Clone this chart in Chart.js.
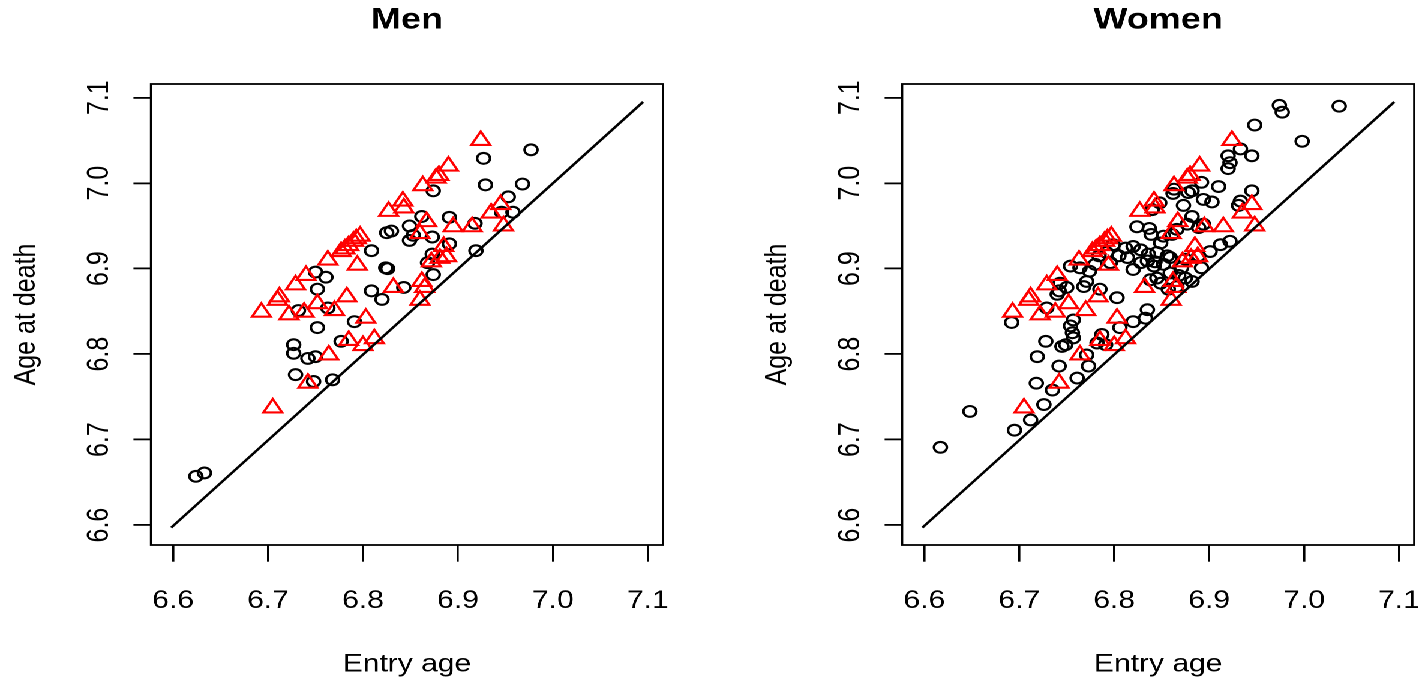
<!DOCTYPE html>
<html>
<head>
<meta charset="utf-8">
<script src="https://cdn.jsdelivr.net/npm/chart.js@4.4.0/dist/chart.umd.min.js"></script>
<style>
html, body { margin: 0; padding: 0; background: #fff; overflow: hidden; }
#wrap { position: absolute; left: 0; top: 0; width: 1182px; height: 685px; transform: scaleX(1.2); transform-origin: 0 0; }
.panel { position: absolute; top: 0; width: 591px; height: 685px; }
</style>
</head>
<body>
<div id="wrap">
    <div class="panel" style="left:0px"><canvas id="menChart"></canvas></div>
    <div class="panel" style="left:625.5px"><canvas id="womenChart"></canvas></div>
</div>
<script>
"use strict";
var axisTicks = [6.6, 6.7, 6.8, 6.9, 7.0, 7.1];
var axisMin = 6.5767;
var axisMax = 7.116;

var diagEntry = [6.598, 7.095];
var diagDeath = [6.597, 7.095];

// red triangles (same in both panels)
var refEntry = [6.924, 6.890, 6.880, 6.877, 6.863, 6.842, 6.843, 6.827, 6.867, 6.895, 6.915, 6.945, 6.935, 6.948, 6.860, 6.797,
    6.793, 6.790, 6.785, 6.781, 6.777, 6.763, 6.794, 6.885, 6.888, 6.881, 6.872, 6.740, 6.729, 6.712, 6.710, 6.693,
    6.832, 6.862, 6.865, 6.860, 6.783, 6.752, 6.722, 6.738, 6.770, 6.803, 6.785, 6.812, 6.800, 6.764, 6.742, 6.705];
var refDeath = [7.050, 7.020, 7.009, 7.006, 6.997, 6.979, 6.971, 6.967, 6.955, 6.949, 6.949, 6.975, 6.965, 6.950, 6.941, 6.938,
    6.935, 6.932, 6.927, 6.923, 6.920, 6.910, 6.904, 6.926, 6.914, 6.912, 6.908, 6.892, 6.881, 6.867, 6.863, 6.849,
    6.878, 6.885, 6.878, 6.863, 6.867, 6.859, 6.846, 6.849, 6.851, 6.842, 6.816, 6.818, 6.810, 6.799, 6.766, 6.737];

var menEntry = [6.977, 6.927, 6.929, 6.968, 6.953, 6.958, 6.946, 6.874, 6.862, 6.891, 6.918, 6.849, 6.825, 6.830, 6.853,
    6.849, 6.873, 6.891, 6.809, 6.919, 6.873, 6.868, 6.824, 6.826, 6.874, 6.750, 6.761, 6.752, 6.843, 6.809, 6.820,
    6.732, 6.763, 6.791, 6.752, 6.727, 6.727, 6.777, 6.742, 6.750, 6.729, 6.748, 6.768, 6.624, 6.633];
var menDeath = [7.039, 7.029, 6.998, 6.999, 6.984, 6.966, 6.966, 6.991, 6.961, 6.960, 6.953, 6.950, 6.942, 6.944, 6.939,
    6.933, 6.937, 6.929, 6.921, 6.921, 6.917, 6.907, 6.901, 6.900, 6.893, 6.896, 6.890, 6.876, 6.878, 6.874, 6.864,
    6.851, 6.854, 6.838, 6.831, 6.811, 6.801, 6.815, 6.795, 6.797, 6.776, 6.768, 6.770, 6.657, 6.661];

var womenEntry = [6.974, 6.977, 7.037, 6.948, 6.998, 6.945, 6.945, 6.933, 6.920, 6.922, 6.920, 6.892, 6.910, 6.863, 6.862,
    6.878, 6.882, 6.894, 6.903, 6.933, 6.931, 6.873, 6.882, 6.848, 6.840, 6.824, 6.837, 6.839, 6.861, 6.866, 6.877,
    6.894, 6.901, 6.912, 6.922, 6.852, 6.849, 6.845, 6.799, 6.812, 6.820, 6.828, 6.836, 6.835, 6.842, 6.856, 6.852,
    6.859, 6.875, 6.871, 6.875, 6.866, 6.889, 6.892, 6.814, 6.805, 6.784, 6.780, 6.774, 6.771, 6.768, 6.754, 6.835,
    6.833, 6.820, 6.806, 6.803, 6.787, 6.782, 6.791, 6.757, 6.754, 6.756, 6.757, 6.749, 6.745, 6.728, 6.719, 6.742,
    6.771, 6.773, 6.761, 6.718, 6.735, 6.726, 6.712, 6.695, 6.617, 6.648, 6.692, 6.750, 6.742, 6.729, 6.845, 6.838, 6.740,
    6.843, 6.859, 6.868, 6.849, 6.857, 6.882, 6.828, 6.820, 6.764, 6.785, 6.889, 6.796, 6.792, 6.743];
var womenDeath = [7.091, 7.083, 7.090, 7.068, 7.049, 7.032, 6.991, 7.040, 7.032, 7.024, 7.017, 7.001, 6.996, 6.993, 6.988,
    6.989, 6.991, 6.981, 6.978, 6.979, 6.974, 6.974, 6.961, 6.977, 6.969, 6.949, 6.947, 6.940, 6.940, 6.946, 6.952,
    6.952, 6.920, 6.928, 6.932, 6.938, 6.930, 6.919, 6.928, 6.924, 6.926, 6.922, 6.917, 6.909, 6.903, 6.915, 6.905,
    6.895, 6.911, 6.901, 6.889, 6.879, 6.915, 6.901, 6.913, 6.915, 6.915, 6.905, 6.897, 6.885, 6.879, 6.903, 6.852,
    6.842, 6.838, 6.831, 6.866, 6.823, 6.813, 6.811, 6.840, 6.833, 6.825, 6.819, 6.811, 6.809, 6.815, 6.797, 6.786,
    6.799, 6.786, 6.772, 6.766, 6.758, 6.741, 6.723, 6.711, 6.691, 6.733, 6.837, 6.878, 6.874, 6.854, 6.889, 6.887, 6.870,
    6.908, 6.913, 6.892, 6.883, 6.876, 6.885, 6.907, 6.899, 6.901, 6.876, 6.948, 6.907, 6.919, 6.883];

var fontFam = "'Liberation Sans', Arial, Helvetica, sans-serif";

function toPoints(xs, ys) {
    return xs.map(function (v, i) {
        return {x: v, y: ys[i]};
    });
}

var boxPlugin = {
    id: "plotBox",
    afterDraw: function (chart) {
        var a = chart.chartArea;
        var ctx = chart.ctx;
        ctx.save();
        ctx.strokeStyle = "#000";
        ctx.lineWidth = 1.8;
        ctx.strokeRect(a.left, a.top, a.right - a.left, a.bottom - a.top);
        ctx.restore();
    }
};

function setTicks(scale) {
    scale.ticks = axisTicks.map(function (v) {
        return {value: v};
    });
}

function drawPanel(canvasId, title, entry, death) {
    new Chart(document.getElementById(canvasId), {
        type: "scatter",
        data: {
            datasets: [{
                data: toPoints(diagEntry, diagDeath),
                showLine: true,
                borderColor: "#000",
                borderWidth: 2.3,
                pointRadius: 0,
                order: 0
            }, {
                data: toPoints(refEntry, refDeath),
                pointStyle: "triangle",
                pointRadius: 9,
                borderColor: "#ff0000",
                backgroundColor: "rgba(0,0,0,0)",
                borderWidth: 2.1,
                order: 1
            }, {
                data: toPoints(entry, death),
                pointStyle: "circle",
                pointRadius: 5.4,
                borderColor: "#000",
                backgroundColor: "rgba(0,0,0,0)",
                borderWidth: 2.1,
                order: 2
            }]
        },
        options: {
            responsive: true,
            maintainAspectRatio: false,
            animation: false,
            devicePixelRatio: 2,
            events: [],
            layout: {padding: {left: 0, right: 38.5, top: 0, bottom: 0}},
            plugins: {
                legend: {display: false},
                tooltip: {enabled: false},
                title: {
                    display: true,
                    text: title,
                    fullSize: false,
                    color: "#000",
                    font: {family: fontFam, size: 30, weight: "bold", lineHeight: 1.2},
                    padding: {top: 2, bottom: 46}
                }
            },
            scales: {
                x: {
                    type: "linear",
                    position: "bottom",
                    min: axisMin,
                    max: axisMax,
                    afterBuildTicks: setTicks,
                    afterFit: function (s) {
                        s.height = 140;
                        s.paddingLeft = 0;
                        s.paddingRight = 0;
                    },
                    border: {display: false},
                    grid: {drawOnChartArea: false, drawTicks: true, tickLength: 16.7, color: "#000", lineWidth: 1.8},
                    ticks: {
                        color: "#000",
                        font: {family: fontFam, size: 25},
                        padding: 24.3,
                        maxRotation: 0,
                        autoSkip: false,
                        callback: function (v) { return v.toFixed(1); }
                    },
                    title: {
                        display: true,
                        text: "Entry age",
                        color: "#000",
                        font: {family: fontFam, size: 25},
                        padding: {top: 0, bottom: 5.4}
                    }
                },
                y: {
                    type: "linear",
                    position: "left",
                    min: axisMin,
                    max: axisMax,
                    afterBuildTicks: setTicks,
                    afterFit: function (s) {
                        s.width = 125.8;
                        s.paddingTop = 0;
                        s.paddingBottom = 0;
                    },
                    border: {display: false},
                    grid: {drawOnChartArea: false, drawTicks: true, tickLength: 14.6, color: "#000", lineWidth: 1.8},
                    ticks: {
                        color: "#000",
                        font: {family: fontFam, size: 25},
                        padding: 10.5,
                        minRotation: 90,
                        maxRotation: 90,
                        crossAlign: "center",
                        autoSkip: false,
                        callback: function (v) { return v.toFixed(1); }
                    },
                    title: {
                        display: true,
                        text: "Age at death",
                        color: "#000",
                        font: {family: fontFam, size: 25},
                        padding: {top: 7.1, bottom: 0}
                    }
                }
            }
        },
        plugins: [boxPlugin]
    });
}

drawPanel("menChart", "Men", menEntry, menDeath);
drawPanel("womenChart", "Women", womenEntry, womenDeath);
</script>
</body>
</html>
